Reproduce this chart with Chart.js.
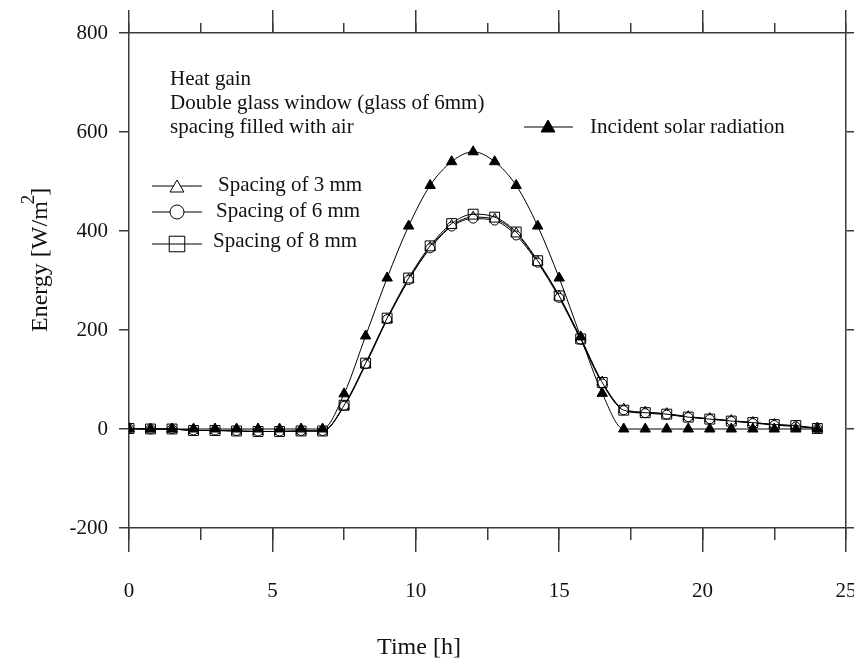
<!DOCTYPE html>
<html>
<head>
<meta charset="utf-8">
<script src="https://cdn.jsdelivr.net/npm/chart.js"></script>
<style>
  html, body { margin: 0; padding: 0; background: #fff; }
</style>
</head>
<body>
<canvas id="myChart" width="854" height="662"></canvas>
<script>
// time of day, one sample every 45 minutes
const hours = [0, 0.75, 1.5, 2.25, 3, 3.75, 4.5, 5.25, 6, 6.75, 7.5, 8.25, 9, 9.75, 10.5, 11.25,
               12, 12.75, 13.5, 14.25, 15, 15.75, 16.5, 17.25, 18, 18.75, 19.5, 20.25, 21, 21.75,
               22.5, 23.25, 24];

const incident = [0, 0, 0, 0, 0, 0, 0, 0, 0, 0, 71, 188, 305, 410, 492, 540,
                  560, 540, 492, 410, 305, 186, 72, 0, 0, 0, 0, 0, 0, 0,
                  0, 0, 0];

const gap3mm = [1, 0, 0, -3, -3, -4, -5, -5, -4, -4, 46, 130, 221, 302, 367, 411,
                428, 424, 395, 338, 268, 184, 95, 40, 34, 31, 25, 21, 17, 13,
                9, 6, 2];

const gap6mm = [1, 0, 0, -3, -3, -4, -5, -5, -4, -4, 47, 131, 222, 301, 365, 409,
                425, 421, 391, 336, 265, 180, 92, 38, 32, 29, 24, 20, 16, 12,
                8, 5, 1];

const gap8mm = [1, 0, 0, -3, -3, -4, -5, -5, -4, -4, 48, 133, 224, 305, 370, 415,
                434, 428, 398, 340, 269, 182, 94, 38, 33, 30, 24, 20, 16, 13,
                9, 7, 1];

const xTicks = [0, 5, 10, 15, 20, 25];
const yTicks = [-200, 0, 200, 400, 600, 800];

const FONT = 'Liberation Serif';
const AXIS = '#3a3a3a';

const pts = arr => arr.map((v, i) => ({x: hours[i], y: v}));

function series(label, data, style, radius, fill) {
    return {
        label: label,
        data: pts(data),
        borderColor: '#000',
        borderWidth: 1,
        pointStyle: style,
        pointRadius: radius,
        pointBackgroundColor: fill,
        pointBorderColor: '#000',
        pointBorderWidth: 1,
        cubicInterpolationMode: 'monotone',
        fill: false
    };
}

const datasets = [
    series('Incident solar radiation', incident, 'triangle', 6, '#000'),
    series('Spacing of 8 mm', gap8mm, 'rect', 7, 'rgba(0,0,0,0)'),
    series('Spacing of 6 mm', gap6mm, 'circle', 4.5, '#fff'),
    series('Spacing of 3 mm', gap3mm, 'triangle', 6, '#fff')
];

// fixed box sizes so the plot frame lands where it should; edge label padding is dropped
function axis(pos, weight, step, tick, size, extra) {
    const horiz = pos === 'top' || pos === 'bottom';
    return Object.assign({
        type: 'linear',
        position: pos,
        weight: weight,
        min: horiz ? 0 : -200,
        max: horiz ? 25 : 800,
        ticks: {display: false, stepSize: step},
        grid: {drawOnChartArea: false, tickLength: tick, color: AXIS, lineWidth: 1.5},
        border: {display: true, color: AXIS, width: 1.5},
        afterFit: s => {
            if (horiz) s.height = size; else s.width = size;
            s.paddingLeft = 0; s.paddingRight = 0;
            s.paddingTop = 0; s.paddingBottom = 0;
        }
    }, extra || {});
}

// free text, legend and axis titles
const textLayer = {
    id: 'textLayer',
    afterDraw(chart) {
        const ctx = chart.ctx;
        const dp = Chart.helpers.drawPoint;
        ctx.save();
        ctx.fillStyle = '#111';
        ctx.strokeStyle = '#000';
        ctx.lineWidth = 1;
        ctx.textBaseline = 'middle';
        ctx.textAlign = 'left';
        ctx.font = '21px "' + FONT + '"';
        ctx.fillText('Heat gain', 170, 79);
        ctx.fillText('Double glass window (glass of 6mm)', 170, 103);
        ctx.fillText('spacing filled with air', 170, 127);

        // incident radiation key
        ctx.beginPath(); ctx.moveTo(524, 127); ctx.lineTo(573, 127); ctx.stroke();
        ctx.fillStyle = '#000';
        dp(ctx, {pointStyle: 'triangle', radius: 8, rotation: 0, borderWidth: 1}, 548, 128);
        ctx.fillStyle = '#111';
        ctx.fillText(datasets[0].label, 590, 127);

        const keys = [
            {ds: datasets[3], y: 186, my: 188, r: 8, tx: 218, ty: 185},
            {ds: datasets[2], y: 212, my: 212, r: 7, tx: 216, ty: 211},
            {ds: datasets[1], y: 244, my: 244, r: 11, tx: 213, ty: 241}
        ];
        keys.forEach(k => {
            ctx.beginPath(); ctx.moveTo(152, k.y); ctx.lineTo(202, k.y); ctx.stroke();
            ctx.fillStyle = k.ds.pointBackgroundColor;
            dp(ctx, {pointStyle: k.ds.pointStyle, radius: k.r, rotation: 0, borderWidth: 1}, 177, k.my);
            ctx.fillStyle = '#111';
            ctx.fillText(k.ds.label, k.tx, k.ty);
        });

        // axis titles
        ctx.font = '24px "' + FONT + '"';
        ctx.textAlign = 'center';
        ctx.fillText('Time [h]', 419, 648);

        ctx.translate(47, 332);
        ctx.rotate(-Math.PI / 2);
        ctx.textAlign = 'left';
        ctx.textBaseline = 'alphabetic';
        const main = 'Energy [W/m';
        const w1 = ctx.measureText(main).width;
        ctx.fillText(main, 0, 0);
        ctx.font = '19px "' + FONT + '"';
        ctx.fillText('2', w1 - 3, -13);
        const w2 = ctx.measureText('2').width;
        ctx.font = '24px "' + FONT + '"';
        ctx.fillText(']', w1 + w2 - 4, 0);
        ctx.restore();
    }
};

Chart.defaults.font.family = FONT;
Chart.defaults.font.size = 21;
Chart.defaults.color = '#111';

new Chart(document.getElementById('myChart'), {
    type: 'line',
    data: {datasets: datasets},
    options: {
        responsive: false,
        animation: false,
        layout: {padding: 0},
        plugins: {legend: {display: false}, tooltip: {enabled: false}},
        scales: {
            x: axis('bottom', 1, 5, 24, 134, {
                ticks: {display: true, stepSize: 5, padding: 27, maxRotation: 0, autoSkip: false,
                        callback: v => xTicks.includes(v) ? String(v) : ''}
            }),
            xMinor: axis('bottom', 0, 2.5, 12, 0, {border: {display: false}}),
            xTop: axis('top', 1, 5, 23, 33),
            xTopMinor: axis('top', 0, 2.5, 10, 0, {border: {display: false}}),
            y: axis('left', 0, 200, 10, 129, {
                ticks: {display: true, stepSize: 200, padding: 11,
                        callback: v => yTicks.includes(v) ? String(v) : ''}
            }),
            yRight: axis('right', 0, 200, 10, 8)
        }
    },
    plugins: [textLayer]
});
</script>
</body>
</html>
